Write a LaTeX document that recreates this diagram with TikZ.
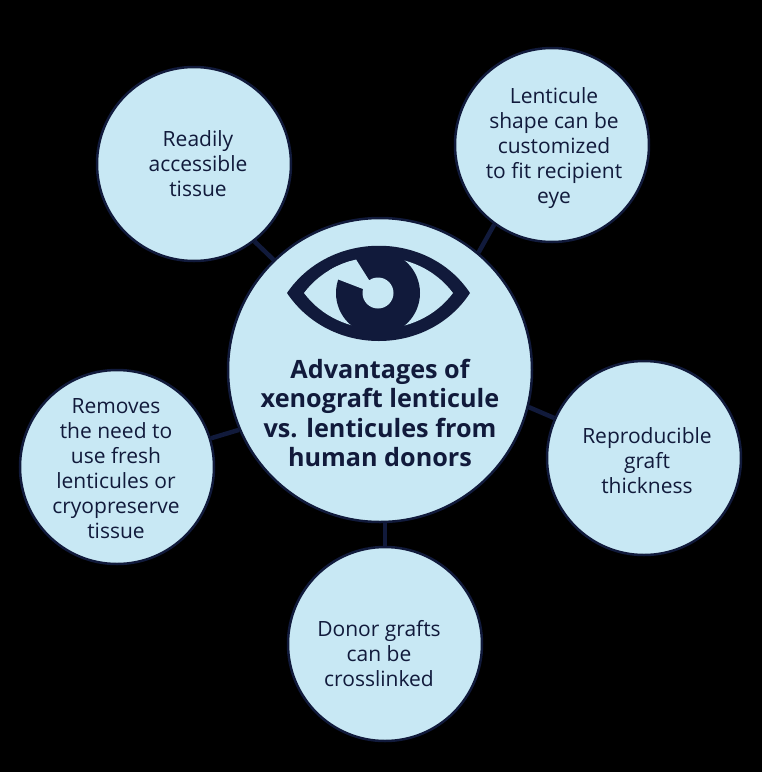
\documentclass[tikz,border=0pt]{standalone}
\usepackage{fontspec}
\setmainfont{Open Sans}
\definecolor{navy}{HTML}{111A3B}
\definecolor{pale}{HTML}{C8E8F4}
\tikzset{
  bubble/.style={circle,draw=navy,line width=2.5pt,fill=pale,inner sep=0pt,minimum size=194pt},
  hub/.style={bubble,minimum size=304pt},
  caption/.style={align=center,text=navy,font=\fontsize{21}{25}\selectfont},
  title/.style={align=center,text=navy,font=\fontsize{25.2}{29.5}\selectfont\bfseries},
  link/.style={draw=navy,line width=4.5pt}
}
\begin{document}
\begin{tikzpicture}[x=1pt,y=-1pt]
\useasboundingbox[fill=black] (0,0) rectangle (762,772);
\node[hub] (c) at (380,370) {};
\node[bubble] (a) at (194,164) {};
\node[bubble] (b) at (552,145) {};
\node[bubble] (d) at (644,458) {};
\node[bubble] (e) at (385,644) {};
\node[bubble] (f) at (117,467) {};
\node[caption] (ta) at (198,164) {Readily\\accessible\\tissue};
\node[caption] (tb) at (554,148.5) {Lenticule\\shape can be\\customized\\to fit recipient\\eye};
\node[caption] (td) at (647,461) {Reproducible\\graft\\thickness};
\node[caption] (te) at (379,654) {Donor grafts\\can be\\crosslinked};
\node[caption] (tf) at (116,469) {Removes\\the need to\\use fresh\\lenticules or\\cryopreserve\\tissue};
\draw[link] (a.-52) -- (c.134);
\draw[link] (b.-126) -- (c.50);
\draw[link] (d.156) -- (c.-14);
\draw[link] (f.17) -- (c.203);
\draw[link] (e.north) -- (c.south -| e.north);
% eye
\fill[navy] (287,293) .. controls (330,230) and (428,230) .. (470,293)
  .. controls (428,357) and (330,357) .. (287,293) -- cycle;
\fill[pale] (304,293) .. controls (340,245) and (417,245) .. (453,293)
  .. controls (417,341) and (340,341) .. (304,293) -- cycle;
\fill[navy] (378,293) circle[radius=42];
\begin{scope}
\clip (304,293) .. controls (340,245) and (417,245) .. (453,293)
  .. controls (417,341) and (340,341) .. (304,293) -- cycle;
\fill[pale] (337,279) -- (363,289) -- (378,293) -- (369,280) -- (357,261) -- (345,240) -- (310,250) -- cycle;
\end{scope}
\fill[pale] (378,293) circle[radius=15.5];
\node[title] (t) at (380,413) {Advantages of\\xenograft lenticule\\vs. lenticules from\\human donors};
\end{tikzpicture}
\end{document}
